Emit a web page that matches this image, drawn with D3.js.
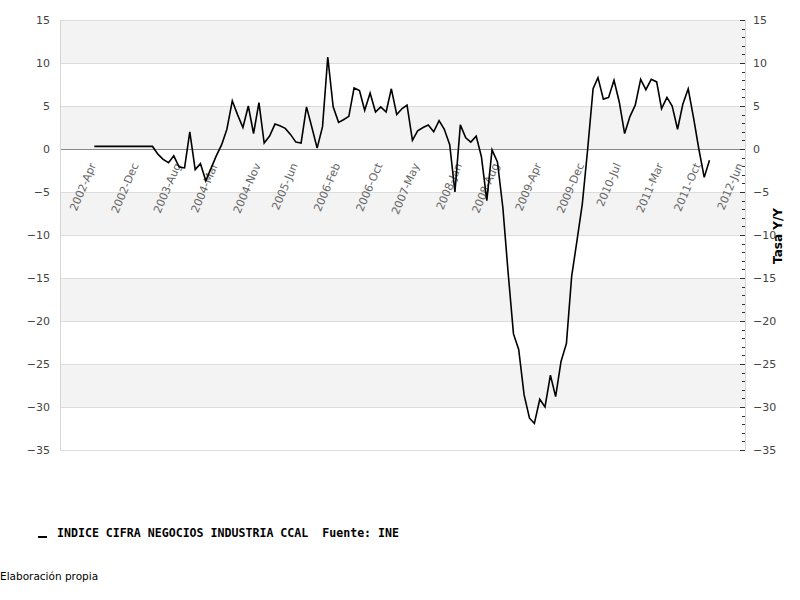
<!DOCTYPE html>
<html>
<head>
<meta charset="utf-8">
<script src="https://cdn.jsdelivr.net/npm/d3@7"></script>
<style>
  html, body { margin: 0; padding: 0; background: #fff; }
  svg { display: block; }
</style>
</head>
<body>
<svg id="chart" width="800" height="600"></svg>
<script>
// ---- Data (monthly, starting 2002-Apr) ----
const startMonth = "2002-04";
const seriesName = "INDICE CIFRA NEGOCIOS INDUSTRIA CCAL  Fuente: INE";
const values = [
  0.3, 0.3, 0.3, 0.3, 0.3, 0.3, 0.3, 0.3, 0.3, 0.3, 0.3, 0.3,
  -0.6, -1.2, -1.6, -0.8, -2.1, -2.2, 2.0, -2.4, -1.7, -3.7, -2.2, -0.8,
  0.5, 2.3, 5.6, 4.0, 2.5, 5.0, 1.8, 5.4, 0.7, 1.5, 2.9, 2.7,
  2.4, 1.7, 0.8, 0.7, 4.9, 2.5, 0.1, 2.6, 10.7, 4.9, 3.1, 3.4,
  3.8, 7.1, 6.8, 4.5, 6.5, 4.3, 4.9, 4.3, 7.0, 4.0, 4.7, 5.1,
  1.0, 2.1, 2.5, 2.8, 2.0, 3.3, 2.3, 0.5, -5.0, 2.8, 1.3, 0.8,
  1.5, -0.9, -6.0, -0.1, -1.5, -6.8, -14.3, -21.5, -23.3, -28.6, -31.3, -31.9,
  -29.1, -30.0, -26.3, -28.8, -24.7, -22.6, -14.8, -10.6, -6.4, 0.0, 7.0, 8.3,
  5.8, 6.0, 8.0, 5.5, 1.8, 3.8, 5.1, 8.1, 6.9, 8.1, 7.8, 4.7,
  6.0, 5.0, 2.3, 5.2, 7.0, 3.6, 0.0, -3.3, -1.3
];
const xTickLabels = ["2002-Apr","2002-Dec","2003-Aug","2004-Mar","2004-Nov","2005-Jun",
  "2006-Feb","2006-Oct","2007-May","2008-Jan","2008-Aug","2009-Apr","2009-Dec",
  "2010-Jul","2011-Mar","2011-Oct","2012-Jun"];
const yTicks = [15, 10, 5, 0, -5, -10, -15, -20, -25, -30, -35];
const yTitle = "Tasa Y/Y";
const footnote = "Elaboración propia";

// ---- Layout ----
const plot = { left: 60, right: 745, top: 20, bottom: 450 };
const svg = d3.select("#chart");

const start = d3.timeParse("%Y-%m")(startMonth);
const data = values.map((v, i) => ({ date: d3.timeMonth.offset(start, i), value: v }));

const x = d3.scaleTime()
  .domain([new Date(2001, 8, 16), new Date(2012, 5, 22)])
  .range([plot.left, plot.right]);
const y = d3.scaleLinear()
  .domain([-35, 15])
  .range([plot.bottom, plot.top]);

// Bands
const bandStarts = d3.range(15, -35, -5);
svg.append("g").selectAll("rect")
  .data(bandStarts)
  .join("rect")
  .attr("x", plot.left)
  .attr("width", plot.right - plot.left)
  .attr("y", d => y(d))
  .attr("height", d => y(d - 5) - y(d))
  .attr("fill", (d, i) => i % 2 === 0 ? "#f3f3f3" : "#ffffff");

// Grid lines
svg.append("g").selectAll("line")
  .data(yTicks)
  .join("line")
  .attr("x1", plot.left).attr("x2", plot.right)
  .attr("y1", d => Math.round(y(d)) + 0.5).attr("y2", d => Math.round(y(d)) + 0.5)
  .attr("stroke", d => d === 0 ? "#888" : "#dcdcdc")
  .attr("stroke-width", 1);

// Frame (left / right)
svg.append("line")
  .attr("x1", plot.left + 0.5).attr("x2", plot.left + 0.5)
  .attr("y1", plot.top).attr("y2", plot.bottom)
  .attr("stroke", "#d6d6d6");
svg.append("line")
  .attr("x1", plot.right + 0.5).attr("x2", plot.right + 0.5)
  .attr("y1", plot.top).attr("y2", plot.bottom)
  .attr("stroke", "#d6d6d6");

// Right minor / major ticks (inside)
const minor = d3.range(-35, 16, 1);
svg.append("g").selectAll("line")
  .data(minor)
  .join("line")
  .attr("x1", d => plot.right - (d % 5 === 0 ? 5 : 3))
  .attr("x2", plot.right)
  .attr("y1", d => Math.round(y(d)) + 0.5)
  .attr("y2", d => Math.round(y(d)) + 0.5)
  .attr("stroke", "#333");

// Left axis labels
const leftAxis = d3.axisLeft(y).tickValues(yTicks).tickSize(0).tickPadding(10);
const gl = svg.append("g").attr("transform", `translate(${plot.left},0)`).call(leftAxis);
gl.select(".domain").remove();
gl.selectAll("text").attr("fill", "#444").style("font-family", "DejaVu Sans").style("font-size", "11px");

// Right axis labels
const rightAxis = d3.axisRight(y).tickValues(yTicks).tickSize(0).tickPadding(8);
const gr = svg.append("g").attr("transform", `translate(${plot.right},0)`).call(rightAxis);
gr.select(".domain").remove();
gr.selectAll("text").attr("fill", "#444").style("font-family", "DejaVu Sans").style("font-size", "11px");

// X tick labels (rotated, near zero line)
const parseLabel = d3.timeParse("%Y-%b");
svg.append("g").selectAll("text")
  .data(xTickLabels)
  .join("text")
  .attr("transform", d => `translate(${x(parseLabel(d)) + 2},${y(0) + 16}) rotate(-67)`)
  .attr("text-anchor", "end")
  .attr("fill", "#666")
  .style("font-family", "DejaVu Sans")
  .style("font-size", "11px")
  .text(d => d);

// Line
const line = d3.line().x(d => x(d.date)).y(d => y(d.value));
svg.append("path")
  .datum(data)
  .attr("d", line)
  .attr("fill", "none")
  .attr("stroke", "#000")
  .attr("stroke-width", 1.6)
  .attr("stroke-linejoin", "miter");

// Y title
svg.append("text")
  .attr("transform", `translate(782,236) rotate(-90)`)
  .attr("text-anchor", "middle")
  .style("font-family", "DejaVu Sans")
  .style("font-weight", "bold")
  .style("font-size", "12px")
  .attr("fill", "#000")
  .text(yTitle);

// Legend
svg.append("line")
  .attr("x1", 38).attr("x2", 47)
  .attr("y1", 537).attr("y2", 537)
  .attr("stroke", "#000").attr("stroke-width", 2);
svg.append("text")
  .attr("x", 57).attr("y", 537)
  .style("font-family", "DejaVu Sans Mono")
  .style("font-weight", "bold")
  .style("font-size", "11.6px")
  .attr("fill", "#000")
  .style("white-space", "pre")
  .attr("xml:space", "preserve")
  .text(seriesName);

// Footnote
svg.append("text")
  .attr("x", 0).attr("y", 580)
  .style("font-family", "DejaVu Sans")
  .style("font-size", "10.5px")
  .attr("fill", "#000")
  .text(footnote);
</script>
</body>
</html>
